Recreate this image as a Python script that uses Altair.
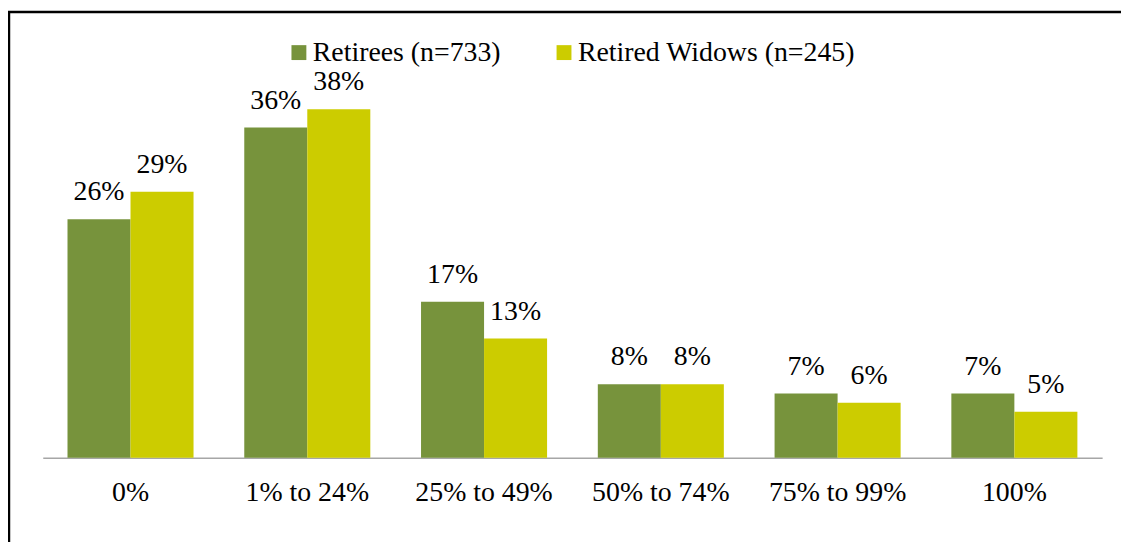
import altair as alt
import pandas as pd

categories = ["0%", "1% to 24%", "25% to 49%", "50% to 74%", "75% to 99%", "100%"]
series = ["Retirees (n=733)", "Retired Widows (n=245)"]
retirees = [26, 36, 17, 8, 7, 7]
widows = [29, 38, 13, 8, 6, 5]
colors = ["#77933C", "#CCCC00"]

rows = []
for c, r, w in zip(categories, retirees, widows):
    rows.append({"cat": c, "series": series[0], "value": r, "label": f"{r}%"})
    rows.append({"cat": c, "series": series[1], "value": w, "label": f"{w}%"})
df = pd.DataFrame(rows)

FONT = "'Liberation Serif', 'Times New Roman', 'DejaVu Serif', serif"
FS = 28

x = alt.X(
    "cat:N",
    sort=categories,
    scale=alt.Scale(paddingInner=0.287, paddingOuter=0.14),
    axis=alt.Axis(
        title=None, labelAngle=0, labelFont=FONT, labelFontSize=FS,
        labelColor="black", ticks=False, tickSize=0, labelPadding=43,
        labelBaseline="alphabetic", domainColor="#A6A6A6", domainWidth=1.5,
        grid=False,
    ),
)
xoff = alt.XOffset("series:N", sort=series, scale=alt.Scale(paddingInner=0, paddingOuter=0))
y = alt.Y("value:Q", scale=alt.Scale(domain=[0, 42], nice=False, zero=True), axis=None)
color = alt.Color(
    "series:N",
    sort=series,
    scale=alt.Scale(domain=series, range=colors),
    legend=alt.Legend(
        orient="none", legendX=244, legendY=-34, direction="horizontal",
        title=None, symbolType="square", symbolSize=225, symbolStrokeWidth=0,
        labelFont=FONT, labelFontSize=FS, labelColor="black", labelLimit=500,
        columnPadding=49, labelOffset=0, padding=0,
    ),
)

base = alt.Chart(df)
bars = base.mark_bar().encode(x=x, xOffset=xoff, y=y, color=color)
text = base.mark_text(dy=-19, font=FONT, fontSize=FS, baseline="alphabetic", color="black").encode(
    x=x, xOffset=xoff, y=y, text="label:N"
)

one = pd.DataFrame({"a": [0]})
border_top = alt.Chart(one).mark_rule(color="black", strokeWidth=2.5).encode(
    x=alt.value(-35), x2=alt.value(1090), y=alt.value(-61)
)
border_left = alt.Chart(one).mark_rule(color="black", strokeWidth=2.5).encode(
    x=alt.value(-34), y=alt.value(-62), y2=alt.value(480)
)

chart = alt.layer(bars, text, border_top, border_left).properties(
    width=1067, height=388,
    autosize=alt.AutoSizeParams(type="none"),
    padding={"left": 35, "top": 63, "right": 19, "bottom": 83},
).configure_view(stroke=None)

chart.save("out.html", embed_options={"renderer": "svg", "actions": False})
